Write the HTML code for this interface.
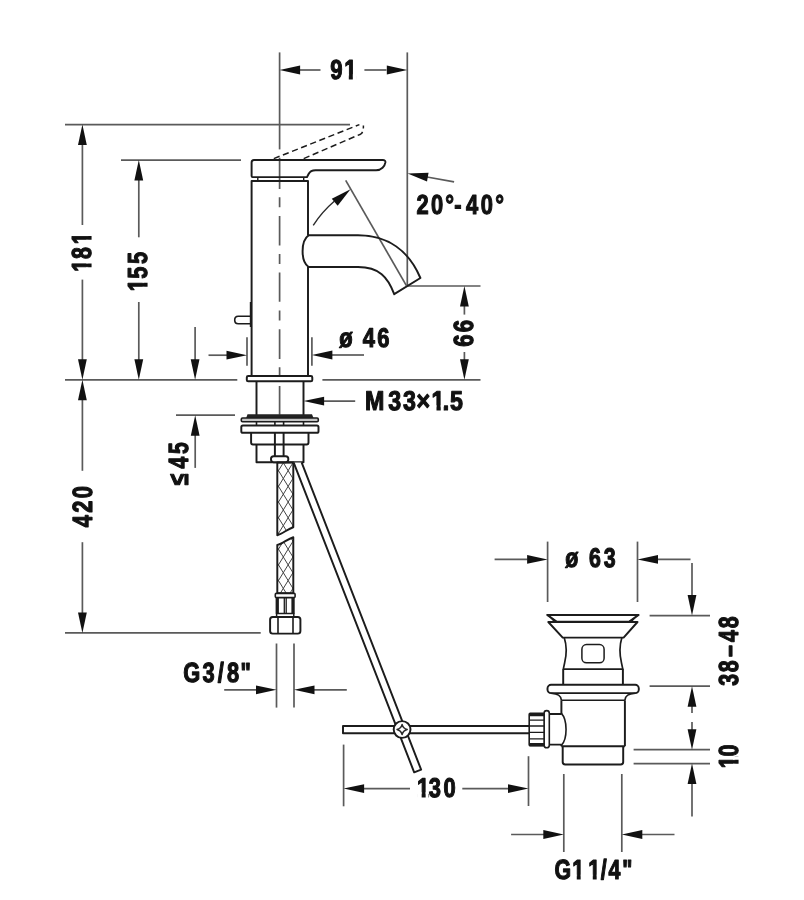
<!DOCTYPE html>
<html lang="en">
<head>
<meta charset="utf-8">
<title>Technical drawing</title>
<style>
html,body{margin:0;padding:0;background:#fff;}
body{width:804px;height:900px;overflow:hidden;}
svg{display:block;will-change:transform;filter:blur(0.45px);}
.t{stroke:#5a5a5a;stroke-width:1.7;fill:none;}
.m{stroke:#2a2a2a;stroke-width:1.4;fill:none;}
.k{stroke:#1c1c1c;stroke-width:1.95;fill:none;stroke-linejoin:round;stroke-linecap:butt;}
.d{stroke:#1c1c1c;stroke-width:1.5;fill:none;stroke-dasharray:6.2 3.6;}
.a{fill:#111;stroke:none;}
.w{fill:#fff;}
.g{fill:#c4c4c4;}
text{font-family:"Liberation Sans",sans-serif;font-weight:bold;font-size:28px;fill:#111;stroke:#111;stroke-width:1.2;stroke-linejoin:round;text-rendering:geometricPrecision;}
</style>
</head>
<body>
<svg width="804" height="900" viewBox="0 0 804 900">
<rect width="804" height="900" fill="#fff"/>
<line class="t" x1="279.6" y1="52.4" x2="279.6" y2="149.4"/>
<path class="t" d="M279.6 157.8V188.9M279.6 197.2V207.2M279.6 215.9V245.6M279.6 253.9V263.9M279.6 272.6V301.7M279.6 310.6V320.6M279.6 329.3V359M279.6 367.3V377.4M279.6 386.1V414.8"/>
<line class="t" x1="407.3" y1="52.4" x2="407.3" y2="285.5"/>
<line class="t" x1="300" y1="70" x2="320.5" y2="70"/>
<line class="t" x1="364.4" y1="70" x2="386.5" y2="70"/>
<text transform="matrix(0.7891 0 0 0.9832 0 78.86)" x="418.36 436.12" y="0">91</text>
<path transform="matrix(0.7891 0 0 0.9832 0 78.86)" fill="#fff" d="M436.52 -4.8H442.02V1.8H436.52ZM447.12 -4.8H452.32V1.8H447.12Z"/>
<line class="t" x1="65" y1="124.6" x2="350" y2="124.6"/>
<line class="t" x1="121" y1="160.1" x2="241" y2="160.1"/>
<line class="t" x1="82.4" y1="144" x2="82.4" y2="225"/>
<line class="t" x1="82.4" y1="279.6" x2="82.4" y2="360"/>
<text transform="matrix(0 -0.7629 0.9832 0 91.06 0)" x="-356.27 -339.63 -320.29" y="0">181</text>
<path transform="matrix(0 -0.7629 0.9832 0 91.06 0)" fill="#fff" d="M-355.87 -4.8H-350.37V1.8H-355.87ZM-345.27 -4.8H-340.07V1.8H-345.27ZM-319.89 -4.8H-314.39V1.8H-319.89ZM-309.29 -4.8H-304.09V1.8H-309.29Z"/>
<line class="t" x1="138.8" y1="180" x2="138.8" y2="237.3"/>
<line class="t" x1="138.8" y1="302" x2="138.8" y2="360"/>
<text transform="matrix(0 -0.7732 0.9832 0 147.36 0)" x="-376.82 -360.41 -341.47" y="0">155</text>
<path transform="matrix(0 -0.7732 0.9832 0 147.36 0)" fill="#fff" d="M-376.42 -4.8H-370.92V1.8H-376.42ZM-365.82 -4.8H-360.62V1.8H-365.82Z"/>
<line class="t" x1="195.1" y1="327" x2="195.1" y2="360"/>
<line class="t" x1="65" y1="379.8" x2="237.3" y2="379.8"/>
<line class="t" x1="322.4" y1="379.8" x2="480.5" y2="379.8"/>
<line class="t" x1="82.4" y1="399" x2="82.4" y2="470.8"/>
<line class="t" x1="82.4" y1="542.2" x2="82.4" y2="613"/>
<text transform="matrix(0 -0.7823 0.9928 0 91.86 0)" x="-673.87 -655.32 -636.97" y="0">420</text>
<line class="t" x1="65" y1="632.9" x2="260.7" y2="632.9"/>
<line class="t" x1="176" y1="415.2" x2="235" y2="415.2"/>
<line class="t" x1="195.2" y1="435" x2="195.2" y2="467.9"/>
<text transform="matrix(0 -0.7550 0.9928 0 187.76 0)" x="-642.69 -620.44 -601.19" y="0">≤45</text>
<line class="t" x1="247" y1="337.3" x2="247" y2="365.7"/>
<line class="t" x1="311.9" y1="337.3" x2="311.9" y2="365.7"/>
<line class="t" x1="208.5" y1="355.2" x2="227" y2="355.2"/>
<line class="t" x1="332" y1="355" x2="364" y2="355"/>
<text transform="matrix(0.7838 0 0 0.9640 0 346.88)" x="432.69 448.29 462.77 481.43" y="0">ø 46</text>
<line class="t" x1="323" y1="401.1" x2="355.2" y2="401.1"/>
<text transform="matrix(0.8300 0 0 0.9736 0 409.87)" x="439.87 467.76 485.41 501.8 519.99 533.57 542.21" y="0">M33×1.5</text>
<path transform="matrix(0.8300 0 0 0.9736 0 409.87)" fill="#fff" d="M520.39 -4.8H525.89V1.8H520.39ZM530.99 -4.8H534.57V1.8H530.99Z"/>
<line class="t" x1="407.3" y1="286" x2="480.5" y2="286"/>
<line class="t" x1="464.4" y1="306" x2="464.4" y2="314.6"/>
<line class="t" x1="464.4" y1="352" x2="464.4" y2="360"/>
<text transform="matrix(0 -0.7973 0.9880 0 473.46 0)" x="-434.99 -416.87" y="0">66</text>
<line class="t" x1="427" y1="177" x2="454.1" y2="181.8"/>
<text transform="matrix(0.7823 0 0 0.9832 0 213.76)" x="532.44 550.91 569.17 580.54 595.82 614.44 633.08" y="0">20°-40°</text>
<line class="t" x1="345.7" y1="180.3" x2="406.4" y2="285.6"/>
<path class="m" d="M313.23 225.33A111.0 111.0 0 0 1 334.26 201.22"/>
<line class="t" x1="276.5" y1="643.5" x2="276.5" y2="707.6"/>
<line class="t" x1="294" y1="643.5" x2="294" y2="707.6"/>
<line class="t" x1="224.2" y1="689.8" x2="256.5" y2="689.8"/>
<line class="t" x1="314" y1="689.8" x2="346.8" y2="689.8"/>
<text transform="matrix(0.7800 0 0 0.9880 0 682.16)" x="234.9 259.71 279.18 290.92 308.29" y="0">G3/8"</text>
<line class="t" x1="343.6" y1="744.6" x2="343.6" y2="806.3"/>
<line class="t" x1="528.5" y1="756.2" x2="528.5" y2="806"/>
<line class="t" x1="364" y1="788.6" x2="410" y2="788.6"/>
<line class="t" x1="462.3" y1="788.6" x2="508.5" y2="788.6"/>
<text transform="matrix(0.7835 0 0 0.9640 0 796.88)" x="532.26 547.28 565.95" y="0">130</text>
<path transform="matrix(0.7835 0 0 0.9640 0 796.88)" fill="#fff" d="M532.66 -4.8H538.16V1.8H532.66ZM543.26 -4.8H546.98V1.8H543.26Z"/>
<line class="t" x1="547.6" y1="541.6" x2="547.6" y2="602"/>
<line class="t" x1="637.5" y1="541.6" x2="637.5" y2="602"/>
<line class="t" x1="494.6" y1="559.4" x2="527.5" y2="559.4"/>
<line class="t" x1="658" y1="559.4" x2="690.5" y2="559.4"/>
<line class="t" x1="692" y1="563" x2="692" y2="596"/>
<text transform="matrix(0.7632 0 0 0.9640 0 566.98)" x="740.76 756.36 771.72 790.99" y="0">ø 63</text>
<line class="t" x1="649.6" y1="615.6" x2="710" y2="615.6"/>
<line class="t" x1="649.6" y1="686.2" x2="710" y2="686.2"/>
<text transform="matrix(0 -0.7600 0.9832 0 737.56 0)" x="-902.34 -884.64 -864.33 -844.74 -826.55" y="0">38–48</text>
<line class="t" x1="692" y1="706" x2="692" y2="713"/>
<line class="t" x1="692" y1="722" x2="692" y2="730"/>
<line class="t" x1="633.6" y1="749.7" x2="710" y2="749.7"/>
<line class="t" x1="633.6" y1="763.6" x2="710" y2="763.6"/>
<line class="t" x1="692" y1="783" x2="692" y2="816.6"/>
<text transform="matrix(0 -0.7724 0.9832 0 737.76 0)" x="-994.74 -979.44" y="0">10</text>
<path transform="matrix(0 -0.7724 0.9832 0 737.76 0)" fill="#fff" d="M-994.34 -4.8H-988.84V1.8H-994.34ZM-983.74 -4.8H-979.24V1.8H-983.74Z"/>
<line class="t" x1="563.8" y1="774" x2="563.8" y2="852"/>
<line class="t" x1="621.8" y1="774" x2="621.8" y2="852"/>
<line class="t" x1="511.1" y1="834.5" x2="544" y2="834.5"/>
<line class="t" x1="642" y1="834.5" x2="674.5" y2="834.5"/>
<text transform="matrix(0.7629 0 0 0.9880 0 879.46)" x="726.98 750.12 765.72 771.1 787.37 797.72 815.62" y="0">G1 1/4"</text>
<path transform="matrix(0.7629 0 0 0.9880 0 879.46)" fill="#fff" d="M750.52 -4.8H756.02V1.8H750.52ZM761.12 -4.8H766.32V1.8H761.12ZM771.5 -4.8H777V1.8H771.5ZM782.1 -4.8H786.77V1.8H782.1Z"/>
<polygon class="a" points="279.6,70 300.1,65.6 300.1,74.4"/>
<polygon class="a" points="407.3,70 386.8,74.4 386.8,65.6"/>
<polygon class="a" points="82.4,124.6 86.8,145.1 78,145.1"/>
<polygon class="a" points="82.4,379.8 78,359.3 86.8,359.3"/>
<polygon class="a" points="138.8,160.1 143.2,180.6 134.4,180.6"/>
<polygon class="a" points="138.8,379.8 134.4,359.3 143.2,359.3"/>
<polygon class="a" points="195.1,379.8 190.7,359.3 199.5,359.3"/>
<polygon class="a" points="82.4,379.8 86.8,400.3 78,400.3"/>
<polygon class="a" points="82.4,632.9 78,612.4 86.8,612.4"/>
<polygon class="a" points="195.2,415.2 199.6,435.7 190.8,435.7"/>
<polygon class="a" points="247,355.2 226.5,359.6 226.5,350.8"/>
<polygon class="a" points="311.9,355 332.4,350.6 332.4,359.4"/>
<polygon class="a" points="303.6,401.1 324.1,396.7 324.1,405.5"/>
<polygon class="a" points="464.4,286 468.8,306.5 460,306.5"/>
<polygon class="a" points="464.4,379.8 460,359.3 468.8,359.3"/>
<polygon class="a" points="407.6,173.6 428.55,172.81 427.03,181.48"/>
<polygon class="a" points="350.5,189.2 337.67,205.83 331.79,198.76"/>
<polygon class="a" points="276.5,689.8 256,694.2 256,685.4"/>
<polygon class="a" points="294,689.8 314.5,685.4 314.5,694.2"/>
<polygon class="a" points="343.6,788.6 364.1,784.2 364.1,793"/>
<polygon class="a" points="528.5,788.6 508,793 508,784.2"/>
<polygon class="a" points="547.6,559.4 527.1,563.8 527.1,555"/>
<polygon class="a" points="637.5,559.4 658,555 658,563.8"/>
<polygon class="a" points="692,615.6 687.6,595.1 696.4,595.1"/>
<polygon class="a" points="692,686.2 696.4,706.7 687.6,706.7"/>
<polygon class="a" points="692,749.7 687.6,729.2 696.4,729.2"/>
<polygon class="a" points="692,763.6 696.4,784.1 687.6,784.1"/>
<polygon class="a" points="563.8,834.5 543.3,838.9 543.3,830.1"/>
<polygon class="a" points="621.8,834.5 642.3,830.1 642.3,838.9"/>
<path class="d" d="M273.8 158.6L359.4 124.6M303.7 158.6L360.5 134.2Q363.6 132.6 363.4 125.5"/>
<path class="k" d="M254 160H382.8Q385.6 160 385.4 162.4C384.8 166.2 381.6 170.2 376 170.2H315.5Q310.5 170.2 308.6 174L307 177.1H252.6Q251.6 177.1 251.6 176V162.6Q251.6 160 254 160Z"/>
<path class="k" d="M257.8 177.1V180.9M303.7 177.1V180.9" style="stroke-width:1.4"/>
<path class="k" d="M251.6 376V180.9H308V235.3M308 267V376"/>
<path class="k" d="M308 235.3H358C388 235.3 409 251 420.4 278L394.2 294.2C388 277 379 267 358 267H308"/>
<path class="k" d="M308.6 235.3C300.6 241 300.6 261.5 308.6 267"/>
<path class="k" d="M251.6 316.3H238.2Q234.7 316.3 234.7 320Q234.7 323.7 238.2 323.7H251.6M250.6 302V327" style="stroke-width:1.6"/>
<rect class="k w" x="246.8" y="376" width="65.5" height="5.3" rx="1.4"/>
<path class="k" d="M256.5 381.4V415M303.5 381.4V415"/>
<path d="M247.5 414.2H312L313.6 418.3H246Z" fill="#222"/>
<rect class="k g" x="241.3" y="418" width="77" height="3.7" rx="1.2" style="stroke-width:1.6"/>
<path class="k" d="M256.5 421.8V425.3M303.5 421.8V425.3M274.9 421.8V425.3M283.6 421.8V425.3" style="stroke-width:1.6"/>
<rect class="k w" x="241.3" y="425.4" width="77.2" height="7.4" rx="1.6"/>
<path class="k" d="M251.1 432.8V442.4Q251.1 444.4 253 444.4H306.6Q308.5 444.4 308.5 442.4V432.8"/>
<path class="k" d="M256.5 444.4V462.3H303.5V444.4"/>
<path class="k" d="M274.9 432.8V456.2M283.6 432.8V456.2"/>
<rect class="k w" x="271" y="456.2" width="17.3" height="6" rx="2.6"/>
<clipPath id="hc"><path d="M277.3 462.4V535.2C282.5 534 287.5 529 293.3 527.2V462.4ZM277.3 593.3V545C282.5 543.8 287.5 539 293.3 537.2V593.3Z"/></clipPath>
<path d="M277.3 421.65L293.3 447.65M293.3 415.15L277.3 441.15M277.3 437.35L293.3 463.35M293.3 430.85L277.3 456.85M277.3 453.05L293.3 479.05M293.3 446.55L277.3 472.55M277.3 468.75L293.3 494.75M293.3 462.25L277.3 488.25M277.3 484.45L293.3 510.45M293.3 477.95L277.3 503.95M277.3 500.15L293.3 526.15M293.3 493.65L277.3 519.65M277.3 515.85L293.3 541.85M293.3 509.35L277.3 535.35M277.3 531.55L293.3 557.55M293.3 525.05L277.3 551.05M277.3 547.25L293.3 573.25M293.3 540.75L277.3 566.75M277.3 562.95L293.3 588.95M293.3 556.45L277.3 582.45M277.3 578.65L293.3 604.65M293.3 572.15L277.3 598.15M277.3 594.35L293.3 620.35M293.3 587.85L277.3 613.85M277.3 610.05L293.3 636.05M293.3 603.55L277.3 629.55M277.3 625.75L293.3 651.75M293.3 619.25L277.3 645.25M277.3 641.45L293.3 667.45M293.3 634.95L277.3 660.95" clip-path="url(#hc)" stroke="#444" stroke-width="1" fill="none"/>
<path class="k" d="M277.3 462.4V535.2C282.5 534 287.5 529 293.3 527.2V462.4Z"/>
<path class="k" d="M277.3 593.3V545C282.5 543.8 287.5 539 293.3 537.2V593.3Z"/>
<rect class="k w" x="275.3" y="593.4" width="19.8" height="4.2" rx="1" style="stroke-width:1.6"/>
<rect x="275.6" y="597.6" width="3.3" height="16.2" fill="#1c1c1c"/>
<rect x="291.4" y="597.6" width="3.3" height="16.2" fill="#1c1c1c"/>
<path class="k" d="M284.3 597.6V613.8M286.2 597.6V613.8" style="stroke-width:1.3"/>
<rect class="k w" x="276.6" y="613.6" width="17.2" height="3.4" style="stroke-width:1.5"/>
<rect class="k w" x="270.1" y="617" width="30.3" height="16.6" rx="2.6"/>
<path class="k" d="M278 617V633.6M293 617V633.6" style="stroke-width:1.6"/>
<path class="k" d="M403 725.9H343V733.2H403M403 725.9H529M403 733.2H529"/>
<path class="k w" d="M301.6 462.4L421.12 769.65L414.17 772.35L293.6 462.4"/>
<circle class="k w" cx="402.1" cy="729.5" r="8.4"/>
<path d="M402.1 724.4C402.9 727.6 404 728.7 407.2 729.5C404 730.3 402.9 731.4 402.1 734.6C401.3 731.4 400.2 730.3 397 729.5C400.2 728.7 401.3 727.6 402.1 724.4Z" fill="#fff" stroke="#2a2a2a" stroke-width="1.5" stroke-linejoin="round"/>
<path class="k w" d="M547.2 614.9H638.6L629 621.7H556.8Z"/>
<path d="M547 614.4L557.6 621.6H553.4Z M638.8 614.4L628.2 621.6H632.4Z" fill="#1c1c1c"/>
<path class="k w" d="M548.3 622H637.5L623.6 637.6H562.7Z"/>
<path class="k" d="M564.2 637.6C566.6 645 566.6 655 564.6 663L563.3 669.1M621.9 637.6C619.6 645 619.6 655 621.5 663L622.8 669.1" style="stroke-width:1.7"/>
<rect class="k" x="581.9" y="644.6" width="22.2" height="18.2" rx="4.6" style="stroke-width:1.5"/>
<path class="k" d="M563 669.1H623.2"/>
<path class="k" d="M563.2 669.1V684.8M622.9 669.1V684.8"/>
<rect class="k w" x="547.5" y="684.8" width="91.3" height="8.3" rx="3.6"/>
<path class="k" d="M551 693.2C558 693.8 560.8 695.5 561.4 700.2M635.3 693.2C628.3 693.8 625.5 695.5 624.9 700.2" style="stroke-width:1.6"/>
<path class="k" d="M561.4 700.2H624.9" style="stroke-width:1.6"/>
<path class="k" d="M561.4 700.2V714M561.4 744.6V746.3M624.9 700.2V746.3"/>
<path class="k" d="M561.4 746.3H624.9"/>
<path class="k" d="M562.7 746.3V762Q562.7 764.4 565.2 764.4H620.7Q623.2 764.4 623.2 762V746.3"/>
<path class="k" d="M561.4 714H549.3M561.4 744.6H549.3"/>
<path class="k" d="M561.4 713.4C567.6 720 567.6 738.8 561.4 745.2" style="stroke-width:1.6"/>
<rect class="k w" x="544.1" y="710.6" width="5.2" height="37.2" rx="2.6" style="stroke-width:1.6"/>
<rect class="k w" x="529.2" y="713.4" width="14.9" height="32.4" rx="1" style="stroke-width:1.6"/>
<path d="M529.2 714.6H544M529.2 744.6H544" stroke="#1c1c1c" stroke-width="3.2"/>
<path class="k" d="M529.2 720.2H544M529.2 726H544M529.2 732.4H544M529.2 738.8H544" style="stroke-width:1.3"/>
</svg>
</body>
</html>
